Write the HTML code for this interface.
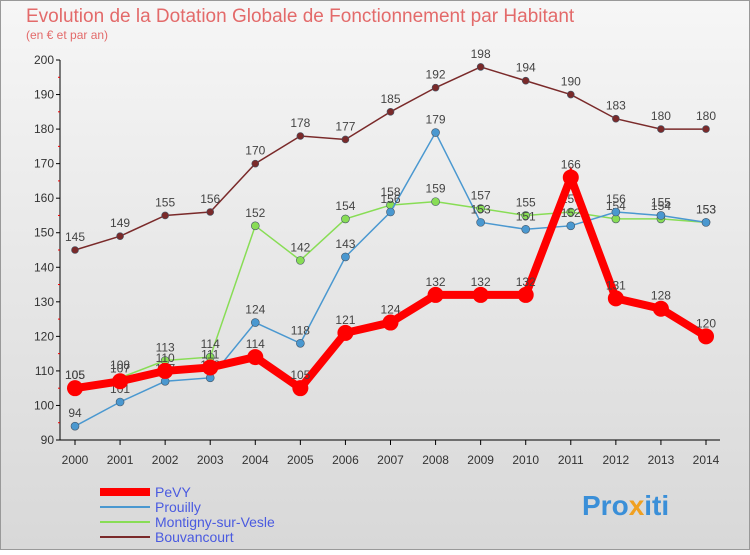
<!DOCTYPE html>
<html><head><meta charset="utf-8"><style>
body{margin:0;background:#fff}
#c{width:750px;height:550px;position:relative;font-family:"Liberation Sans",sans-serif}
</style></head><body>
<div id="c">
<svg id="s" width="750" height="550" xmlns="http://www.w3.org/2000/svg">
<defs><linearGradient id="bg" x1="0" y1="0" x2="0" y2="1"><stop offset="0" stop-color="#f6f6f6"/><stop offset="1" stop-color="#d8d8d8"/></linearGradient></defs>
<rect x="0.5" y="0.5" width="749" height="549" fill="url(#bg)" stroke="#999"/>
<text x="26" y="22" font-size="19" fill="#e36a6a">Evolution de la Dotation Globale de Fonctionnement par Habitant</text>
<text x="26" y="39" font-size="12" fill="#e36a6a">(en € et par an)</text>
<g id="axes"></g><g id="series"></g><g id="legend"></g>
<text x="582" y="515" font-size="28" font-weight="bold" fill="#3a8fd8">Pro<tspan fill="#f0a020">x</tspan>iti</text>
</svg></div>
<script>
const years=[2000,2001,2002,2003,2004,2005,2006,2007,2008,2009,2010,2011,2012,2013,2014];
const yTicks=[90,100,110,120,130,140,150,160,170,180,190,200];
const pevy=[105,107,110,111,114,105,121,124,132,132,132,166,131,128,120];
const prouilly=[94,101,107,108,124,118,143,156,179,153,151,152,156,155,153];
const montigny=[105,108,113,114,152,142,154,158,159,157,155,156,154,154,153];
const bouvancourt=[145,149,155,156,170,178,177,185,192,198,194,190,183,180,180];
const NS="http://www.w3.org/2000/svg";
const x=i=>75+i*(706-75)/14;
const y=v=>440-(v-90)*(380/110);
function mk(t,a,p){const e=document.createElementNS(NS,t);for(const k in a)e.setAttribute(k,a[k]);(p||document.getElementById('axes')).appendChild(e);return e;}
const ax=document.getElementById('axes');
let l=mk('line',{x1:60,y1:y(200),x2:60,y2:440,stroke:'#000'},ax);


l=mk('line',{x1:60,y1:440,x2:720,y2:440,stroke:'#000'},ax);


yTicks.forEach(v=>{
 mk('line',{x1:56,y1:y(v),x2:60,y2:y(v),stroke:'#000'},ax);
 if(v<200) mk('line',{x1:58,y1:y(v+5),x2:60,y2:y(v+5),stroke:'#e00'},ax);
 const t=mk('text',{x:54,y:y(v)+4,'font-size':12,'text-anchor':'end',fill:'#333'},ax);t.textContent=v;
 
 
});
years.forEach((yr,i)=>{
 mk('line',{x1:x(i),y1:440,x2:x(i),y2:445,stroke:'#000'},ax);
 const t=mk('text',{x:x(i),y:464,'font-size':12,'text-anchor':'middle',fill:'#333'},ax);t.textContent=yr;
 
 
});
const sg=document.getElementById('series');
const defs=[
 {n:'bouvancourt',d:bouvancourt,c:'#7a2a2a',w:1.5,r:3.5,lab:'Bouvancourt'},
 {n:'montigny',d:montigny,c:'#88dd55',w:1.5,r:4,lab:'Montigny-sur-Vesle'},
 {n:'prouilly',d:prouilly,c:'#4a98d0',w:1.5,r:4,lab:'Prouilly'},
 {n:'pevy',d:pevy,c:'#ff0000',w:8,r:8,lab:'PeVY'}];
defs.forEach(s=>{
 const g=mk('g',{},sg);
 
 
 mk('polyline',{points:s.d.map((v,i)=>x(i)+','+y(v)).join(' '),fill:'none',stroke:s.c,'stroke-width':s.w},g);
 s.d.forEach((v,i)=>{
  const c=mk('circle',{cx:x(i),cy:y(v),r:s.r,fill:s.c,stroke:s.n=='pevy'?'#e00':'#456','stroke-width':s.n=='pevy'?0:0.6},g);
  
  
  const t=mk('text',{x:x(i),y:y(v)-9,'font-size':12,'text-anchor':'middle',fill:'#444'},g);t.textContent=v;
  
  
 });
});
const lg=document.getElementById('legend');
[defs[3],defs[2],defs[1],defs[0]].forEach((s,k)=>{
 const yy=492+k*15;
 const g=mk('g',{},lg);
 
 
 mk('line',{x1:100,y1:yy,x2:150,y2:yy,stroke:s.c,'stroke-width':s.n=='pevy'?8:2},g);
 const t=mk('text',{x:155,y:yy+5,'font-size':14,fill:'#4a5ae0'},g);t.textContent=s.lab;
});
</script>
</body></html>
